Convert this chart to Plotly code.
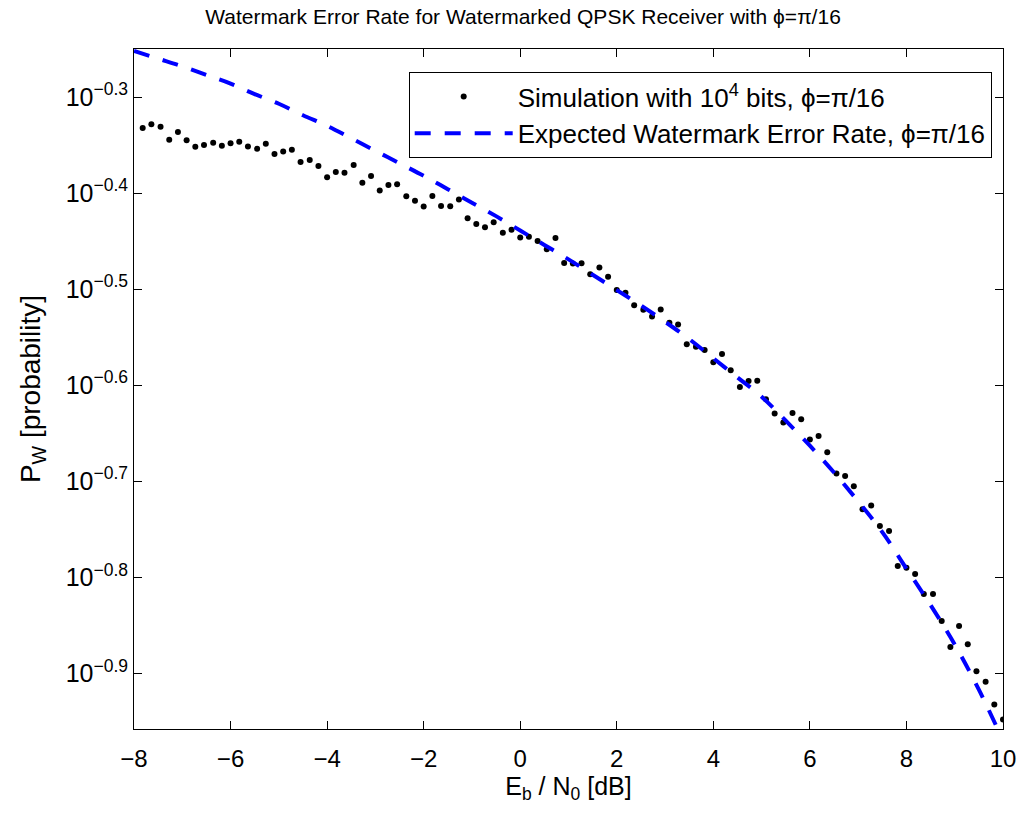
import plotly.graph_objects as go

# ---- data (log10 of probability) ----
sim_x = [-7.82, -7.64, -7.45, -7.27, -7.09, -6.91, -6.73, -6.55, -6.36, -6.18,
         -6.00, -5.82, -5.64, -5.45, -5.27, -5.09, -4.91, -4.73, -4.55, -4.36,
         -4.18, -4.00, -3.82, -3.64, -3.45, -3.27, -3.09, -2.91, -2.73, -2.55,
         -2.36, -2.18, -2.00, -1.82, -1.64, -1.45, -1.27, -1.09, -0.91, -0.73,
         -0.55, -0.36, -0.18, 0.00, 0.18, 0.36, 0.55, 0.73, 0.91, 1.09,
         1.27, 1.45, 1.64, 1.82, 2.00, 2.18, 2.36, 2.55, 2.73, 2.91,
         3.09, 3.27, 3.45, 3.64, 3.82, 4.00, 4.18, 4.36, 4.55, 4.73,
         4.91, 5.09, 5.27, 5.45, 5.64, 5.82, 6.00, 6.18, 6.36, 6.55,
         6.73, 6.91, 7.09, 7.27, 7.45, 7.64, 7.82, 8.00, 8.18, 8.36,
         8.55, 8.73, 8.91, 9.09, 9.27, 9.45, 9.64, 9.82, 10.00]
sim_log10 = [-0.3323, -0.3284, -0.3309, -0.3445, -0.3365, -0.3451, -0.3518, -0.3500, -0.3476, -0.3507,
             -0.3482, -0.3466, -0.3514, -0.3539, -0.3486, -0.3594, -0.3566, -0.3549, -0.3677, -0.3656,
             -0.3719, -0.3836, -0.3781, -0.3789, -0.3708, -0.3893, -0.3823, -0.3972, -0.3917, -0.3909,
             -0.4033, -0.4080, -0.4141, -0.4031, -0.4135, -0.4138, -0.4066, -0.4263, -0.4323, -0.4357,
             -0.4304, -0.4414, -0.4382, -0.4462, -0.4455, -0.4498, -0.4585, -0.4469, -0.4727, -0.4734,
             -0.4732, -0.4844, -0.4774, -0.4872, -0.5010, -0.5039, -0.5167, -0.5216, -0.5284, -0.5211,
             -0.5349, -0.5368, -0.5574, -0.5600, -0.5635, -0.5761, -0.5675, -0.5844, -0.6018, -0.5958,
             -0.5955, -0.6148, -0.6295, -0.6389, -0.6289, -0.6356, -0.6565, -0.6529, -0.6698, -0.6919,
             -0.6946, -0.7052, -0.7292, -0.7254, -0.7467, -0.7518, -0.7882, -0.7901, -0.7966, -0.8174,
             -0.8174, -0.8456, -0.8727, -0.8507, -0.8698, -0.8979, -0.9089, -0.9326, -0.9481]

exp_x = [-8, -7.5, -7, -6.5, -6, -5.5, -5, -4.5, -4, -3.5, -3, -2.5, -2, -1.5, -1, -0.5,
         0, 0.5, 1, 1.5, 2, 2.5, 3, 3.5, 4, 4.5, 5, 5.5, 6, 6.5, 7, 7.5, 8, 8.5, 9, 9.5, 10]
exp_log10 = [-0.252, -0.260, -0.268, -0.277, -0.286, -0.297, -0.307, -0.319, -0.330, -0.343,
             -0.356, -0.369, -0.382, -0.396, -0.410, -0.424, -0.439, -0.454, -0.469, -0.485,
             -0.501, -0.517, -0.534, -0.552, -0.572, -0.592, -0.612, -0.637, -0.663, -0.691,
             -0.721, -0.753, -0.791, -0.829, -0.870, -0.917, -0.970]

x_ticks = [-8, -6, -4, -2, 0, 2, 4, 6, 8, 10]
x_tick_labels = ["\u22128", "\u22126", "\u22124", "\u22122", "0", "2", "4", "6", "8", "10"]
y_tick_exps = [-0.3, -0.4, -0.5, -0.6, -0.7, -0.8, -0.9]
y_tick_labels = ["10<sup>\u22120.3</sup>", "10<sup>\u22120.4</sup>", "10<sup>\u22120.5</sup>",
                 "10<sup>\u22120.6</sup>", "10<sup>\u22120.7</sup>", "10<sup>\u22120.8</sup>",
                 "10<sup>\u22120.9</sup>"]

sim_p = [10 ** v for v in sim_log10]
exp_p = [10 ** v for v in exp_log10]

FONT = "Liberation Sans, Arial, Helvetica, sans-serif"

fig = go.Figure()
fig.add_trace(go.Scatter(
    x=sim_x, y=sim_p, mode="markers",
    marker=dict(color="black", size=6),
    name="Simulation with 10<sup>4</sup> bits, \u03d5=\u03c0/16",
))
fig.add_trace(go.Scatter(
    x=exp_x, y=exp_p, mode="lines", line_shape="spline",
    line=dict(color="#0000ff", width=4, dash="16px,14px"),
    name="Expected Watermark Error Rate, \u03d5=\u03c0/16",
))

fig.update_layout(
    width=1021, height=817,
    margin=dict(l=134, r=18, t=49, b=88, autoexpand=False),
    paper_bgcolor="white", plot_bgcolor="white",
    font=dict(family=FONT, size=24, color="black"),
    title=dict(text="Watermark Error Rate for Watermarked QPSK Receiver with \u03d5=\u03c0/16",
               x=523 / 1021, xanchor="center", y=1 - 17 / 817, yanchor="middle",
               font=dict(size=21)),
    showlegend=True,
    legend=dict(x=0.987, y=0.966, xanchor="right", yanchor="top",
                bordercolor="black", borderwidth=1, bgcolor="white",
                font=dict(size=26), tracegroupgap=0, itemwidth=98),
)
fig.update_xaxes(
    range=[-8, 10], tickvals=x_ticks, ticktext=x_tick_labels, tickfont=dict(size=24),
    ticks="inside", ticklen=8, tickcolor="black", showline=True, linecolor="black",
    linewidth=1, mirror="ticks", showgrid=False, zeroline=False, automargin=False,
    ticklabelstandoff=8,
    title=dict(text="E<sub>b</sub> / N<sub>0</sub> [dB]", standoff=2, font=dict(size=25)),
)
fig.update_yaxes(
    type="log", range=[-0.958, -0.25],
    tickvals=[10 ** e for e in y_tick_exps], ticktext=y_tick_labels, tickfont=dict(size=25),
    ticks="inside", ticklen=8, tickcolor="black", showline=True, linecolor="black",
    linewidth=1, mirror="ticks", showgrid=False, zeroline=False, automargin=False,
    title=dict(text="P<sub>W</sub> [probability]", standoff=16, font=dict(size=28)),
)

fig.write_html("out.html")
